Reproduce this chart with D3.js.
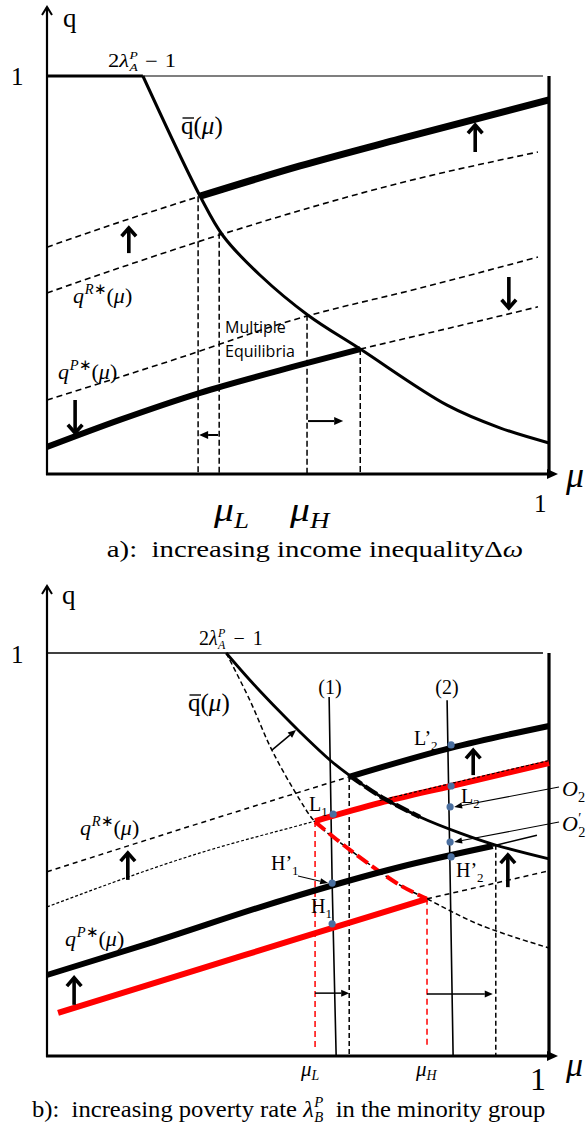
<!DOCTYPE html>
<html>
<head>
<meta charset="utf-8">
<script src="https://cdn.jsdelivr.net/npm/d3@7"></script>
<style>
  html, body { margin: 0; padding: 0; background: #fff; }
  svg { display: block; }
</style>
</head>
<body>
<svg id="chart" width="586" height="1128"></svg>
<script>
// ---------- Panel (a): increasing income inequality ----------
// every curve is a list of [mu, q] pairs on the unit square
const aBarFlat        = [[0, 1], [0.191, 1]];
const aBar            = [[0.191, 1.0], [0.305, 0.698], [0.351, 0.598], [0.424, 0.500], [0.520, 0.399],
                         [0.624, 0.314], [0.797, 0.173], [0.902, 0.116], [1.0, 0.078]];
const aRichUpDashed   = [[0, 0.570], [0.145, 0.633], [0.305, 0.698]];
const aRichUp         = [[0.305, 0.698], [0.504, 0.774], [0.703, 0.842], [1.0, 0.940]];
const aRich           = [[0, 0.455], [0.345, 0.601], [0.703, 0.731], [0.978, 0.809]];
const aPoor           = [[0, 0.186], [0.245, 0.284], [0.504, 0.392], [0.743, 0.467], [0.978, 0.545]];
const aPoorDown       = [[0, 0.068], [0.145, 0.136], [0.305, 0.204], [0.504, 0.274], [0.624, 0.314]];
const aPoorDownDashed = [[0.624, 0.314], [0.803, 0.367], [0.978, 0.420]];
const aEqMu           = [0.301, 0.343, 0.518, 0.624];
const aEqQ            = [0.698, 0.606, 0.400, 0.314];
const aShiftArrows    = [[0.163, 0.555, 0.163, 0.618], [0.853, 0.809, 0.853, 0.877],
                         [0.920, 0.495, 0.920, 0.417], [0.056, 0.186, 0.056, 0.103]];
const aMuArrows       = [[0.341, 0.098, 0.303, 0.098], [0.520, 0.133, 0.590, 0.133]];
const aMuLabels       = ["L", "H"];

// ---------- Panel (b): increasing poverty rate in the minority group ----------
const bBar            = [[0.357, 1.0], [0.404, 0.933], [0.464, 0.854], [0.504, 0.804], [0.564, 0.734],
                         [0.604, 0.695], [0.663, 0.645], [0.743, 0.593], [0.823, 0.553], [0.892, 0.524],
                         [1.0, 0.489]];
const bBarOld         = [[0.357, 1.0], [0.404, 0.883], [0.448, 0.759], [0.504, 0.635], [0.534, 0.581],
                         [0.604, 0.511], [0.703, 0.424], [0.757, 0.390], [0.863, 0.325], [1.0, 0.268]];
const bRichUpDashed   = [[0, 0.457], [0.305, 0.578], [0.600, 0.692]];
const bRichUp         = [[0.600, 0.692], [0.803, 0.764], [1.0, 0.819]];
const bRich           = [[0, 0.370], [0.305, 0.504], [0.534, 0.583], [0.663, 0.628], [0.805, 0.670], [1.0, 0.727]];
const bRichMinority   = [[0.534, 0.583], [0.663, 0.628], [0.805, 0.670], [1.0, 0.727]];
const bPoorMinority   = [[0.022, 0.107], [0.305, 0.216], [0.504, 0.293], [0.757, 0.390]];
const bPoorDashed     = [[0.757, 0.390], [0.998, 0.459]];
const bPoorUp         = [[0, 0.201], [0.205, 0.280], [0.470, 0.387], [0.703, 0.469], [0.888, 0.521]];
const bPoorUpThin     = [[0.888, 0.521], [0.976, 0.548]];
const bEqMu           = [0.602, 0.894];
const bEqQ            = [0.692, 0.524];
const bEqMuMinority   = [0.534, 0.757];
const bEqQMinority    = [0.583, 0.390];
const bCut1           = [[0.562, 0.891], [0.568, 0.430], [0.576, 0]];
const bCut2           = [[0.797, 0.883], [0.803, 0.450], [0.809, 0]];
const bDotMu          = [0.570, 0.568, 0.568, 0.805, 0.805, 0.803, 0.803, 0.805];
const bDotQ           = [0.600, 0.429, 0.328, 0.772, 0.670, 0.618, 0.531, 0.494];
const bShiftArrows    = [[0.849, 0.697, 0.849, 0.759], [0.161, 0.437, 0.161, 0.504],
                         [0.054, 0.127, 0.054, 0.194], [0.918, 0.419, 0.918, 0.499]];
const bMuArrows       = [[0.534, 0.156, 0.602, 0.156], [0.757, 0.154, 0.888, 0.154]];
const bBarShift       = [0.448, 0.759, 0.496, 0.809];

const SERIF = "'Liberation Serif','Times New Roman',serif";
const SANS = "'Open Sans','Liberation Sans',sans-serif";
const RED = "#ff0000";
const DOT = "#4a6fa0";

const svg = d3.select("#chart");

const ax = d3.scaleLinear().domain([0, 1]).range([47, 549]);
const ay = d3.scaleLinear().domain([0, 1]).range([474, 76]);
const bx = d3.scaleLinear().domain([0, 1]).range([47, 549]);
const by = d3.scaleLinear().domain([0, 1]).range([1056, 653]);

function curve(g, data, x, y, st, type) {
  return g.append("path").datum(data)
    .attr("d", d3.line().x(d => x(d[0])).y(d => y(d[1])).curve(type || d3.curveMonotoneX))
    .attr("fill", "none")
    .attr("stroke", st.color || "#000")
    .attr("stroke-width", st.w || 1.5)
    .attr("stroke-dasharray", st.dash || null)
    .attr("stroke-linecap", st.cap || "butt")
    .attr("stroke-linejoin", "round");
}

function boldArrow(g, x1, y1, x2, y2, w, head) {
  w = w || 3.6; head = head || 11;
  const a = Math.atan2(y2 - y1, x2 - x1), s = 0.72;
  g.append("line").attr("x1", x1).attr("y1", y1).attr("x2", x2).attr("y2", y2)
    .attr("stroke", "#000").attr("stroke-width", w);
  const p1 = [x2 - head * Math.cos(a - s), y2 - head * Math.sin(a - s)];
  const p2 = [x2 - head * Math.cos(a + s), y2 - head * Math.sin(a + s)];
  g.append("path").attr("d", `M${p1}L${x2},${y2}L${p2}`)
    .attr("fill", "none").attr("stroke", "#000").attr("stroke-width", w)
    .attr("stroke-linejoin", "miter");
}

function thinArrow(g, x1, y1, x2, y2, w, len, half) {
  w = w || 1.4; len = len || 8; half = half || 3.5;
  const a = Math.atan2(y2 - y1, x2 - x1);
  const bx0 = x2 - len * Math.cos(a), by0 = y2 - len * Math.sin(a);
  g.append("line").attr("x1", x1).attr("y1", y1).attr("x2", bx0).attr("y2", by0)
    .attr("stroke", "#000").attr("stroke-width", w);
  const nx = -Math.sin(a) * half, ny = Math.cos(a) * half;
  g.append("path").attr("d", `M${x2},${y2}L${bx0 + nx},${by0 + ny}L${bx0 - nx},${by0 - ny}Z`)
    .attr("fill", "#000");
}

// text built from pieces: italic, scaled, shifted, stacked, with optional overbar;
// o.sx widens the whole run horizontally
function rich(g, x, y, pieces, o) {
  o = o || {};
  const size = o.size || 20, fam = o.family || SERIF, fill = o.fill || "#000", sx0 = o.sx || 1;
  const grp = g.append("g");
  let cx = x, lastStart = x;
  for (const p of pieces) {
    const fs = size * (p.s || 1);
    const sx = (p.stack ? lastStart : cx) + (p.dx || 0) * size;
    const t = grp.append("text")
      .attr("x", sx).attr("y", y + (p.dy || 0) * size)
      .attr("font-family", p.f || fam).attr("font-size", fs)
      .attr("font-style", p.i ? "italic" : "normal")
      .attr("fill", fill).style("white-space", "pre").text(p.t);
    const w = t.node().getComputedTextLength();
    if (p.bar) {
      grp.append("line").attr("x1", sx + fs * 0.06).attr("x2", sx + w + fs * 0.02)
        .attr("y1", y - fs * 0.64).attr("y2", y - fs * 0.64)
        .attr("stroke", fill).attr("stroke-width", Math.max(1, fs * 0.055));
    }
    lastStart = sx;
    cx = Math.max(cx, sx + w);
  }
  const width = (cx - x) * sx0;
  let shift = 0;
  if (o.anchor === "middle") shift = width / 2;
  if (o.anchor === "end") shift = width;
  grp.attr("transform", `translate(${x - shift},0) scale(${sx0},1) translate(${-x},0)`);
  return width;
}

function frame(g, x, y, yTip, xTip) {
  // right border, axes with arrow heads
  g.append("line").attr("x1", x(1)).attr("x2", x(1)).attr("y1", y(1)).attr("y2", y(0))
    .attr("stroke", "#000").attr("stroke-width", 3.2);
  g.append("line").attr("x1", x(0)).attr("x2", x(0)).attr("y1", y(0) + 1).attr("y2", yTip)
    .attr("stroke", "#000").attr("stroke-width", 2.2);
  g.append("path").attr("d", `M${x(0) - 5},${yTip + 8}L${x(0)},${yTip}L${x(0) + 5},${yTip + 8}`)
    .attr("fill", "none").attr("stroke", "#000").attr("stroke-width", 2);
  g.append("line").attr("x1", x(0) - 1).attr("x2", xTip - 8).attr("y1", y(0)).attr("y2", y(0))
    .attr("stroke", "#000").attr("stroke-width", 3);
  g.append("path").attr("d", `M${xTip},${y(0)}L${xTip - 11},${y(0) - 5}L${xTip - 11},${y(0) + 5}Z`)
    .attr("fill", "#000");
}

const lambdaPieces = (sub) => [{ t: "λ", i: true }, { t: "P", i: true, s: 0.6, dy: -0.42, dx: 0.02 },
  { t: sub, i: true, s: 0.6, dy: 0.22, stack: true }];

// ================= Panel (a) =================
const ga = svg.append("g");
ga.append("line").attr("x1", ax(0)).attr("x2", ax(0.988)).attr("y1", ay(1)).attr("y2", ay(1))
  .attr("stroke", "#555").attr("stroke-width", 1.4);
frame(ga, ax, ay, 7, 558);

// dashed equilibrium markers
aEqMu.forEach((m, i) => {
  ga.append("line").attr("x1", ax(m)).attr("x2", ax(m)).attr("y1", ay(aEqQ[i])).attr("y2", ay(0))
    .attr("stroke", "#000").attr("stroke-width", 1.5).attr("stroke-dasharray", "6,3");
});

curve(ga, aRich, ax, ay, { w: 1.6, dash: "6,4" });
curve(ga, aPoor, ax, ay, { w: 1.6, dash: "6,4" });
curve(ga, aRichUpDashed, ax, ay, { w: 1.6, dash: "6,4" });
curve(ga, aPoorDownDashed, ax, ay, { w: 1.6, dash: "6,4" });
curve(ga, aRichUp, ax, ay, { w: 7 });
curve(ga, aPoorDown, ax, ay, { w: 6 });
curve(ga, aBarFlat, ax, ay, { w: 3 }, d3.curveLinear);
curve(ga, aBar, ax, ay, { w: 3 }, d3.curveCatmullRom);

aShiftArrows.forEach(d => boldArrow(ga, ax(d[0]), ay(d[1]), ax(d[2]), ay(d[3])));
aMuArrows.forEach(d => thinArrow(ga, ax(d[0]), ay(d[1]), ax(d[2]), ay(d[3]), 2, 9, 4));

// labels (a)
rich(ga, 63, 27, [{ t: "q" }], { size: 27 });
rich(ga, 11, 85, [{ t: "1" }], { size: 25 });
rich(ga, 108, 67, [{ t: "2" }, ...lambdaPieces("A"), { t: "−", dx: 0.32 }, { t: "1", dx: 0.32 }], { size: 18, sx: 1.25 });
rich(ga, 181, 134, [{ t: "q", bar: true }, { t: "(" }, { t: "μ", i: true }, { t: ")" }], { size: 25 });
rich(ga, 73, 303, [{ t: "q", i: true }, { t: "R", i: true, s: 0.66, dy: -0.42, dx: 0.03 }, { t: "∗", s: 0.66, dy: -0.42 },
  { t: "(" }, { t: "μ", i: true }, { t: ")" }], { size: 22 });
rich(ga, 58, 379, [{ t: "q", i: true }, { t: "P", i: true, s: 0.66, dy: -0.42, dx: 0.03 }, { t: "∗", s: 0.66, dy: -0.42 },
  { t: "(" }, { t: "μ", i: true }, { t: ")" }], { size: 22 });
ga.append("text").attr("x", 225).attr("y", 333).attr("font-family", SANS).attr("font-size", 16).text("Multiple");
ga.append("text").attr("x", 225).attr("y", 357).attr("font-family", SANS).attr("font-size", 16).text("Equilibria");
rich(ga, 214, 521, [{ t: "μ", i: true }, { t: aMuLabels[0], i: true, s: 0.68, dy: 0.2 }], { size: 33, sx: 1.2 });
rich(ga, 290, 521, [{ t: "μ", i: true }, { t: aMuLabels[1], i: true, s: 0.68, dy: 0.2 }], { size: 33, sx: 1.2 });
rich(ga, 534, 512, [{ t: "1" }], { size: 25 });
rich(ga, 566, 487, [{ t: "μ", i: true }], { size: 36 });
rich(ga, 315, 557, [{ t: "a):  increasing income inequality" }, { t: "Δ" }, { t: "ω", i: true }],
  { size: 24, anchor: "middle", sx: 1.2 });

// ================= Panel (b) =================
const gb = svg.append("g");
gb.append("line").attr("x1", bx(0)).attr("x2", bx(0.988)).attr("y1", by(1)).attr("y2", by(1))
  .attr("stroke", "#000").attr("stroke-width", 1.4);
frame(gb, bx, by, 586, 558);

// red dashed markers of the minority-group equilibria
bEqMuMinority.forEach((m, i) => {
  gb.append("line").attr("x1", bx(m)).attr("x2", bx(m)).attr("y1", by(bEqQMinority[i])).attr("y2", by(0.02))
    .attr("stroke", RED).attr("stroke-width", 1.5).attr("stroke-dasharray", "6,4");
});
bEqMu.forEach((m, i) => {
  gb.append("line").attr("x1", bx(m)).attr("x2", bx(m)).attr("y1", by(bEqQ[i])).attr("y2", by(0))
    .attr("stroke", "#000").attr("stroke-width", 1.5).attr("stroke-dasharray", "5,3");
});

// cuts (1) and (2)
curve(gb, bCut1, bx, by, { w: 1.6 }, d3.curveNatural);
curve(gb, bCut2, bx, by, { w: 1.6 }, d3.curveNatural);

curve(gb, bBarOld, bx, by, { w: 1.5, dash: "5,3" }, d3.curveCatmullRom);
curve(gb, bRichUpDashed, bx, by, { w: 1.5, dash: "5,4" });
curve(gb, bRich, bx, by, { w: 1.2, dash: "3,2" });
curve(gb, bPoorDashed, bx, by, { w: 1.5, dash: "5,4" });
curve(gb, bPoorUpThin, bx, by, { w: 1.6 });

// minority group: red segments
curve(gb, bRichMinority, bx, by, { w: 6, color: RED });
curve(gb, bBarOld.filter(d => d[0] >= 0.534 && d[0] <= 0.757), bx, by, { w: 4, color: RED, dash: "13,5" }, d3.curveCatmullRom);
curve(gb, bPoorMinority, bx, by, { w: 6, color: RED });
gb.append("g").attr("transform", "translate(0,-2.5)").call(g =>
  curve(g, bRichMinority.filter(d => d[0] >= 0.663), bx, by, { w: 1.1, dash: "3,2" }));

curve(gb, bRichUp, bx, by, { w: 6 });
curve(gb, bPoorUp, bx, by, { w: 6 });
curve(gb, bBar, bx, by, { w: 2.8 }, d3.curveCatmullRom);
curve(gb, bBar.filter(d => d[0] >= 0.604 && d[0] <= 0.743), bx, by, { w: 4.5, dash: "14,4" }, d3.curveCatmullRom);

thinArrow(gb, bx(bBarShift[0]), by(bBarShift[1]), bx(bBarShift[2]), by(bBarShift[3]), 1.5, 8, 3.5);
bShiftArrows.forEach(d => boldArrow(gb, bx(d[0]), by(d[1]), bx(d[2]), by(d[3])));
bMuArrows.forEach(d => thinArrow(gb, bx(d[0]), by(d[1]), bx(d[2]), by(d[3]), 1.5, 8, 3.5));

// equilibrium points
gb.selectAll("circle.pt").data(bDotMu).join("circle").attr("class", "pt")
  .attr("cx", d => bx(d)).attr("cy", (d, i) => by(bDotQ[i])).attr("r", 3.6).attr("fill", DOT);

// pointers to O2, O'2 and H'1
thinArrow(gb, 559, 787, bx(bDotMu[5]) + 4, by(bDotQ[5]), 1.1, 8, 3);
thinArrow(gb, 559, 822, bx(bDotMu[6]) + 4, by(bDotQ[6]), 1.1, 8, 3);
thinArrow(gb, 298, 876, bx(bDotMu[1]) - 4, by(bDotQ[1]), 1.1, 8, 3);

// labels (b)
rich(gb, 62, 604, [{ t: "q" }], { size: 27 });
rich(gb, 11, 663, [{ t: "1" }], { size: 25 });
rich(gb, 199, 645, [{ t: "2" }, ...lambdaPieces("A"), { t: "−", dx: 0.4 }, { t: "1", dx: 0.4 }], { size: 20 });
rich(gb, 188, 711, [{ t: "q", bar: true }, { t: "(" }, { t: "μ", i: true }, { t: ")" }], { size: 25 });
rich(gb, 80, 835, [{ t: "q", i: true }, { t: "R", i: true, s: 0.66, dy: -0.42, dx: 0.03 }, { t: "∗", s: 0.66, dy: -0.42 },
  { t: "(" }, { t: "μ", i: true }, { t: ")" }], { size: 22 });
rich(gb, 65, 946, [{ t: "q", i: true }, { t: "P", i: true, s: 0.66, dy: -0.42, dx: 0.03 }, { t: "∗", s: 0.66, dy: -0.42 },
  { t: "(" }, { t: "μ", i: true }, { t: ")" }], { size: 22 });
rich(gb, 330, 694, [{ t: "(1)" }], { size: 20, anchor: "middle" });
rich(gb, 447, 694, [{ t: "(2)" }], { size: 20, anchor: "middle" });

const sub = (a, b) => [{ t: a }, { t: b, s: 0.65, dy: 0.25 }];
rich(gb, 309, 811, sub("L", "1"), { size: 20 });
rich(gb, 271, 870, sub("H’", "1"), { size: 20 });
rich(gb, 311, 913, sub("H", "1"), { size: 20 });
rich(gb, 414, 745, sub("L’", "2"), { size: 20 });
rich(gb, 461, 803, sub("L", "2"), { size: 20 });
rich(gb, 456, 877, sub("H’", "2"), { size: 20 });
rich(gb, 562, 796, [{ t: "O", i: true }, { t: "2", s: 0.65, dy: 0.25 }], { size: 22 });
rich(gb, 562, 831, [{ t: "O", i: true }, { t: "′", s: 0.65, dy: -0.38, dx: 0.02 }, { t: "2", s: 0.65, dy: 0.25, stack: true }], { size: 22 });

rich(gb, 301, 1076, [{ t: "μ", i: true }, { t: aMuLabels[0], i: true, s: 0.66, dy: 0.2 }], { size: 21 });
rich(gb, 416, 1076, [{ t: "μ", i: true }, { t: aMuLabels[1], i: true, s: 0.66, dy: 0.2 }], { size: 21 });
rich(gb, 530, 1090, [{ t: "1" }], { size: 32 });
rich(gb, 566, 1076, [{ t: "μ", i: true }], { size: 34 });
rich(gb, 32, 1117, [{ t: "b):  increasing poverty rate " }, ...lambdaPieces("B"),
  { t: "  in the minority group" }], { size: 24, sx: 1.025 });
</script>
</body>
</html>
